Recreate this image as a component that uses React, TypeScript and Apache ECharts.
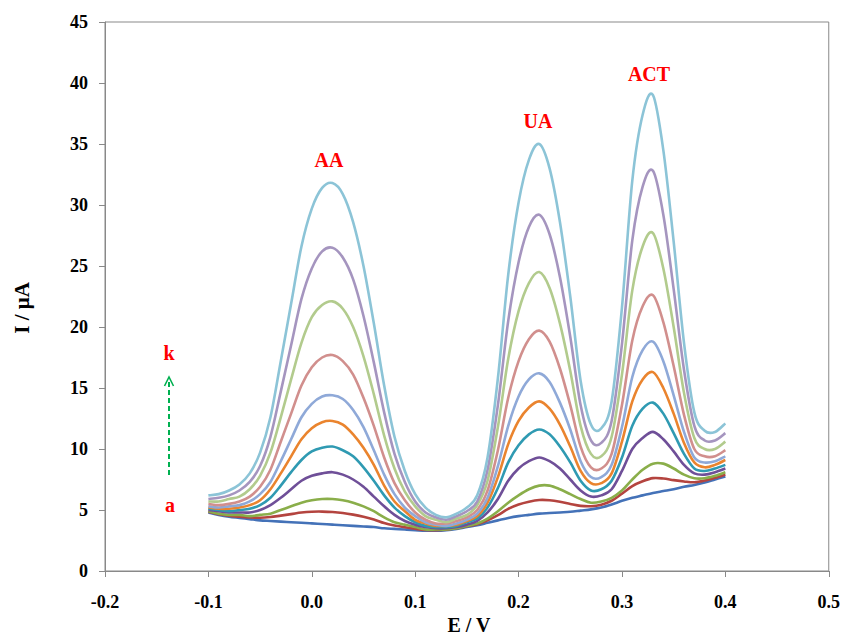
import React, { useEffect, useRef } from "react";
import * as echarts from "echarts";

// Potential (V)
const potentials = [-0.1,-0.09,-0.08,-0.07,-0.06,-0.05,-0.04,-0.03,-0.02,-0.01,0,0.01,0.02,0.03,0.04,0.05,0.06,0.07,0.08,0.09,0.1,0.11,0.12,0.13,0.14,0.15,0.16,0.17,0.18,0.19,0.2,0.21,0.22,0.23,0.24,0.25,0.26,0.27,0.28,0.29,0.3,0.31,0.32,0.33,0.34,0.35,0.36,0.37,0.38,0.39,0.4];

// Currents (µA), curves a..k
const curveA = [4.8,4.6,4.45,4.35,4.25,4.15,4.1,4.05,4.0,3.95,3.9,3.85,3.8,3.75,3.7,3.65,3.6,3.5,3.45,3.4,3.35,3.3,3.3,3.35,3.45,3.6,3.75,3.95,4.15,4.35,4.5,4.6,4.7,4.75,4.8,4.85,4.95,5.05,5.2,5.45,5.75,6.0,6.2,6.4,6.55,6.7,6.9,7.05,7.25,7.5,7.75];
const curveB = [4.85,4.66,4.53,4.45,4.39,4.36,4.42,4.54,4.66,4.79,4.86,4.87,4.84,4.76,4.62,4.44,4.22,3.93,3.73,3.58,3.46,3.37,3.35,3.39,3.5,3.66,3.84,4.15,4.58,5.09,5.45,5.68,5.82,5.8,5.68,5.5,5.34,5.31,5.44,5.76,6.34,6.96,7.35,7.61,7.58,7.45,7.34,7.27,7.41,7.64,7.91];
const curveC = [4.9,4.7,4.6,4.6,4.5,4.6,4.7,5.0,5.3,5.6,5.8,5.9,5.9,5.8,5.6,5.3,4.9,4.4,4.0,3.8,3.6,3.4,3.4,3.4,3.5,3.7,3.9,4.3,4.9,5.6,6.2,6.7,7.0,7.0,6.7,6.3,5.9,5.6,5.7,6.0,6.6,7.5,8.3,8.8,8.8,8.4,7.9,7.6,7.6,7.8,8.1];
const curveD = [5.0,4.9,4.8,4.8,4.8,5.0,5.4,6.0,6.7,7.4,7.8,8.0,8.1,7.9,7.5,6.9,6.1,5.3,4.6,4.1,3.8,3.6,3.5,3.5,3.6,3.8,4.1,4.8,5.9,7.4,8.4,9.0,9.3,9.0,8.4,7.5,6.6,6.1,6.2,6.7,8.2,10.0,10.9,11.4,10.8,9.8,8.7,8.0,7.9,8.1,8.4];
const curveE = [5.1,5.0,4.9,5.0,5.1,5.4,6.0,7.0,8.1,9.1,9.8,10.1,10.2,9.9,9.4,8.5,7.4,6.2,5.2,4.5,4.0,3.7,3.6,3.6,3.7,4.0,4.3,5.2,6.8,8.9,10.3,11.2,11.6,11.2,10.2,8.9,7.4,6.6,6.7,7.4,9.3,11.9,13.3,13.8,12.9,11.3,9.6,8.4,8.2,8.4,8.7];
const curveF = [5.2,5.1,5.1,5.2,5.4,5.8,6.7,8.0,9.4,10.8,11.7,12.2,12.3,12.0,11.2,10.1,8.7,7.0,5.7,4.9,4.2,3.9,3.7,3.7,3.8,4.1,4.5,5.6,7.7,10.4,12.3,13.4,13.9,13.3,12.0,10.2,8.2,7.2,7.2,8.0,10.6,13.9,15.7,16.3,15.0,12.9,10.5,8.9,8.5,8.7,9.1];
const curveG = [5.3,5.2,5.3,5.4,5.7,6.3,7.3,9.0,10.8,12.6,13.7,14.3,14.4,14.1,13.2,11.8,9.9,7.9,6.3,5.2,4.5,4.0,3.8,3.7,3.9,4.2,4.7,6.0,8.6,11.9,14.3,15.7,16.2,15.5,13.8,11.6,9.0,7.7,7.7,8.7,11.8,15.9,18.1,18.8,17.2,14.4,11.4,9.3,8.9,9.0,9.4];
const curveH = [5.5,5.4,5.5,5.7,6.1,6.9,8.3,10.6,12.9,15.2,16.7,17.5,17.7,17.2,16.1,14.2,11.9,9.3,7.2,5.8,4.8,4.2,3.9,3.9,4.1,4.4,5.0,6.6,9.9,14.2,17.2,19.0,19.7,18.8,16.6,13.6,10.2,8.5,8.4,9.6,13.6,18.9,21.7,22.6,20.4,16.8,12.8,10.0,9.4,9.4,9.9];
const curveI = [5.7,5.7,5.9,6.1,6.7,7.8,9.7,12.6,15.7,18.7,20.8,21.8,22.1,21.5,20.0,17.6,14.5,11.1,8.4,6.5,5.3,4.5,4.2,4.0,4.3,4.6,5.4,7.4,11.8,17.4,21.3,23.6,24.5,23.2,20.3,16.4,11.9,9.6,9.4,11.0,16.1,23.0,26.6,27.7,24.8,20.0,14.6,10.9,10.0,10.0,10.6];
const curveJ = [5.9,6.0,6.2,6.6,7.3,8.6,11.0,14.7,18.5,22.3,24.8,26.2,26.5,25.7,23.9,20.9,17.1,13.0,9.6,7.3,5.7,4.8,4.4,4.2,4.5,4.9,5.7,8.3,13.6,20.5,25.3,28.2,29.2,27.6,24.1,19.2,13.6,10.7,10.5,12.3,18.6,27.1,31.5,32.8,29.2,23.1,16.5,11.9,10.7,10.7,11.3];
const curveK = [6.2,6.3,6.6,7.1,8.0,9.7,12.6,17.2,21.9,26.6,29.7,31.4,31.8,30.9,28.6,25.0,20.3,15.2,11.0,8.2,6.3,5.2,4.6,4.4,4.7,5.2,6.2,9.3,15.8,24.3,30.2,33.7,35.0,33.0,28.6,22.5,15.6,12.0,11.7,13.9,21.6,32.0,37.4,39.0,34.5,27.0,18.7,13.0,11.5,11.4,12.1];

const curveNames = ["a", "b", "c", "d", "e", "f", "g", "h", "i", "j", "k"];
const curves = [curveA, curveB, curveC, curveD, curveE, curveF, curveG, curveH, curveI, curveJ, curveK];
const curveColors = ["#4472B8", "#B4443F", "#8AAE4A", "#6F4F98", "#2F9AB2", "#EA842E", "#8FA9D8", "#D18F8D", "#B2CB8D", "#A595BF", "#8CC4D7"];

const peakLabels = ["AA", "UA", "ACT"];

const FONT = "'Liberation Serif', 'Times New Roman', serif";
const AXIS_GRAY = "#898989";

// Smooth curve through the data points (Catmull-Rom), positioned with the chart's own axes.
function makeRenderItem(values: number[], color: string) {
  return (params: any, api: any) => {
    if (params.dataIndex !== 0) return null;
    const pts = potentials.map((x, i) => api.coord([x, values[i]]) as number[]);
    const n = pts.length;
    let d = `M${pts[0][0]},${pts[0][1]}`;
    for (let i = 0; i < n - 1; i++) {
      const p0 = pts[Math.max(0, i - 1)];
      const p1 = pts[i];
      const p2 = pts[i + 1];
      const p3 = pts[Math.min(n - 1, i + 2)];
      const c1x = p1[0] + (p2[0] - p0[0]) / 6;
      const c1y = p1[1] + (p2[1] - p0[1]) / 6;
      const c2x = p2[0] - (p3[0] - p1[0]) / 6;
      const c2y = p2[1] - (p3[1] - p1[1]) / 6;
      d += ` C${c1x},${c1y} ${c2x},${c2y} ${p2[0]},${p2[1]}`;
    }
    return {
      type: "path",
      shape: { pathData: d },
      style: { stroke: color, lineWidth: 2.6, fill: "none", lineJoin: "round" },
      silent: true,
    };
  };
}

export default function App() {
  const ref = useRef<HTMLDivElement>(null);

  useEffect(() => {
    document.body.style.margin = "0";
    if (!ref.current) return;
    const chart = echarts.init(ref.current, null, { renderer: "svg" });

    const series = curves.map((c, idx) => ({
      name: curveNames[idx],
      type: "custom",
      coordinateSystem: "cartesian2d",
      data: potentials.map((x, i) => [x, c[i]]),
      encode: { x: 0, y: 1 },
      renderItem: makeRenderItem(c, curveColors[idx]),
      z: 2 + idx,
    }));

    const fmt = (v: number) => (Math.abs(v) < 1e-9 ? "0.0" : v.toFixed(1));

    chart.setOption({
      animation: false,
      backgroundColor: "#ffffff",
      grid: {
        left: 105,
        right: 13,
        top: 22,
        bottom: 66,
        show: true,
        borderColor: AXIS_GRAY,
        borderWidth: 1,
        backgroundColor: "transparent",
      },
      xAxis: {
        type: "value",
        min: -0.2,
        max: 0.5,
        interval: 0.1,
        axisLine: { show: true, onZero: false, lineStyle: { color: AXIS_GRAY, width: 1 } },
        axisTick: { show: true, length: 6, lineStyle: { color: AXIS_GRAY } },
        splitLine: { show: false },
        axisLabel: {
          formatter: fmt,
          color: "#000",
          fontFamily: FONT,
          fontWeight: "bold",
          fontSize: 18,
          margin: 22,
        },
      },
      yAxis: {
        type: "value",
        min: 0,
        max: 45,
        interval: 5,
        axisLine: { show: true, onZero: false, lineStyle: { color: AXIS_GRAY, width: 1 } },
        axisTick: { show: true, length: 6, lineStyle: { color: AXIS_GRAY } },
        splitLine: { show: false },
        axisLabel: {
          color: "#000",
          fontFamily: FONT,
          fontWeight: "bold",
          fontSize: 18,
          margin: 17,
        },
      },
      series,
      graphic: [
        {
          type: "text",
          x: 22,
          y: 308,
          rotation: Math.PI / 2,
          style: {
            text: "I / μA",
            fill: "#000",
            font: `bold 21px ${FONT}`,
            textAlign: "center",
            textVerticalAlign: "middle",
          },
        },
        {
          type: "text",
          x: 469,
          y: 625,
          style: {
            text: "E / V",
            fill: "#000",
            font: `bold 20px ${FONT}`,
            textAlign: "center",
            textVerticalAlign: "middle",
          },
        },
        {
          type: "text",
          x: 329,
          y: 160,
          style: { text: peakLabels[0], fill: "#FF0000", font: `bold 20px ${FONT}`, textAlign: "center", textVerticalAlign: "middle" },
        },
        {
          type: "text",
          x: 538,
          y: 121,
          style: { text: peakLabels[1], fill: "#FF0000", font: `bold 20px ${FONT}`, textAlign: "center", textVerticalAlign: "middle" },
        },
        {
          type: "text",
          x: 649,
          y: 74,
          style: { text: peakLabels[2], fill: "#FF0000", font: `bold 20px ${FONT}`, textAlign: "center", textVerticalAlign: "middle" },
        },
        {
          type: "text",
          x: 169,
          y: 353,
          style: { text: curveNames[10], fill: "#FF0000", font: `bold 20px ${FONT}`, textAlign: "center", textVerticalAlign: "middle" },
        },
        {
          type: "text",
          x: 170,
          y: 505,
          style: { text: curveNames[0], fill: "#FF0000", font: `bold 20px ${FONT}`, textAlign: "center", textVerticalAlign: "middle" },
        },
        {
          type: "line",
          shape: { x1: 169, y1: 475, x2: 169, y2: 379 },
          style: { stroke: "#00B050", lineWidth: 2, lineDash: [5, 3] },
        },
        {
          type: "polyline",
          shape: { points: [[164.5, 386], [169, 377], [173.5, 386]] },
          style: { stroke: "#00B050", lineWidth: 1.6, fill: "none" },
        },
      ],
    });

    return () => chart.dispose();
  }, []);

  return <div ref={ref} style={{ width: 843, height: 637 }} />;
}
